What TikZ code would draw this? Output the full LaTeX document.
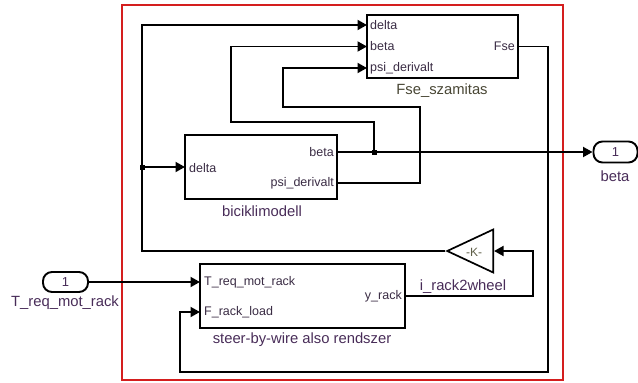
\documentclass[tikz,border=0pt]{standalone}
\usepackage{fontspec}
\setmainfont{Liberation Sans}
\usetikzlibrary{arrows.meta,shapes.geometric}
\definecolor{lab}{RGB}{72,44,88}
\definecolor{portc}{RGB}{58,44,68}
\definecolor{olivec}{RGB}{72,70,52}
\definecolor{kcol}{RGB}{95,95,72}
\definecolor{redb}{RGB}{212,30,30}
\begin{document}
\begin{tikzpicture}[x=1pt,y=-1pt,
  wire/.style={line width=1.8pt,black},
  sig/.style={wire,-{Triangle[length=9.5pt,width=10pt]}},
  blk/.style={draw=black,line width=1.9pt,fill=white,inner sep=0pt},
  port/.style={font=\fontsize{12.5}{14}\selectfont,text=portc,inner sep=0pt},
  bname/.style={font=\fontsize{14.8}{16}\selectfont,text=lab,inner sep=0pt},
  io/.style={draw=black,line width=1.9pt,rounded corners=9pt,inner sep=0pt,font=\fontsize{13}{14}\selectfont,text=lab},
  jdot/.style={fill=black,inner sep=0pt,minimum size=5pt,rectangle}
]
\useasboundingbox (0,0) rectangle (638,383);
% red frame
\node[draw=redb,line width=2.8pt,minimum width=441pt,minimum height=375pt,inner sep=0pt] (frame) at (342.5,192.5) {};

% blocks
\node[blk,minimum width=151pt,minimum height=63pt] (fse) at (442.5,46.5) {};
\node[blk,minimum width=152pt,minimum height=64pt] (bic) at (261,167) {};
\node[blk,minimum width=205pt,minimum height=64pt] (sbw) at (302.5,296) {};
\node[draw=black,line width=1.7pt,fill=white,isosceles triangle,isosceles triangle stretches=true,
      shape border rotate=180,minimum width=43pt,minimum height=46pt,inner sep=0pt,anchor=apex] (gain) at (445,251) {};
\node[font=\fontsize{12}{14}\selectfont,text=kcol,inner sep=0pt] (gk) at (474,252) {-K-};

% inport / outport
\node[io,minimum width=45pt,minimum height=20pt] (inT) at (65.5,282) {1};
\node[io,minimum width=44pt,minimum height=21pt] (outB) at (615.5,152) {1};
\node[bname] (inTl) at (65,303) {T\_req\_mot\_rack};
\node[bname] (outBl) at (615,176) {beta};

% block names
\node[bname,text=olivec] (fsel) at (442,91) {Fse\_szamitas};
\node[bname] (bicl) at (262,211) {biciklimodell};
\node[bname] (sbwl) at (302,340) {steer-by-wire also rendszer};
\node[bname] (gainl) at (463,287) {i\_rack2wheel};

% port coordinates
\coordinate (fseD) at (367,25);
\coordinate (fseB) at (367,46.5);
\coordinate (fseP) at (367,68);
\coordinate (fseO) at (518,46.5);
\coordinate (bicD) at (185,167);
\coordinate (bicB) at (337,152);
\coordinate (bicP) at (337,183);
\coordinate (sbwT) at (200,282);
\coordinate (sbwF) at (200,312);
\coordinate (sbwY) at (405,296);

% port labels
\node[port,anchor=west] at (370,25) {delta};
\node[port,anchor=west] at (370,46.5) {beta};
\node[port,anchor=west] at (370,68) {psi\_derivalt};
\node[port,anchor=east] at (515,46.5) {Fse};
\node[port,anchor=west] at (189,168) {delta};
\node[port,anchor=east] at (334,152) {beta};
\node[port,anchor=east] at (334,183) {psi\_derivalt};
\node[port,anchor=west] at (204,282) {T\_req\_mot\_rack};
\node[port,anchor=west] at (204,312) {F\_rack\_load};
\node[port,anchor=east] at (402,296) {y\_rack};

% junctions
\node[jdot] (jd) at (142,167) {};
\node[jdot] (jb) at (374,152) {};

% helper corners
\coordinate (bx) at (231,122);
\coordinate (pr) at (420,107);
\coordinate (pl) at (283,107);
\coordinate (fr) at (548,372);
\coordinate (fl) at (180,372);
\coordinate (yr) at (533,251);

% wires
\draw[sig] (gain.apex) -| (jd.center) |- (fseD);
\draw[sig] (jd.center) -- (bicD);
\draw[sig] (bicB) -- (outB.west);
\draw[sig] (jb.center) |- (bx) |- (fseB);
\draw[sig] (bicP) -| (pr) -- (pl) |- (fseP);
\draw[sig] (fseO) -| (fr) -- (fl) |- (sbwF);
\draw[sig] (inT.east) -- (sbwT);
\draw[sig] (sbwY) -| (yr) -- (gain.lower side);
\end{tikzpicture}
\end{document}
